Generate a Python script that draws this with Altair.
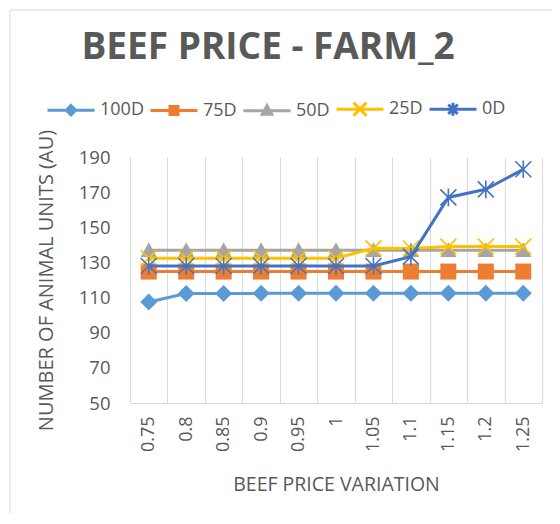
import altair as alt
import pandas as pd

x_labels = ["0.75", "0.8", "0.85", "0.9", "0.95", "1", "1.05", "1.1", "1.15", "1.2", "1.25"]
series_names = ["100D", "75D", "50D", "25D", "0D"]
s100 = [107.5, 112.3, 112.3, 112.4, 112.4, 112.4, 112.4, 112.4, 112.4, 112.4, 112.4]
s75 = [124.8, 124.8, 124.8, 124.8, 124.8, 124.8, 124.8, 124.8, 124.8, 124.8, 124.8]
s50 = [137.0, 137.0, 137.0, 137.0, 137.0, 137.0, 137.0, 137.0, 137.0, 137.0, 137.0]
s25 = [132.4, 132.4, 132.4, 132.4, 132.4, 132.4, 138.0, 137.9, 139.0, 139.0, 139.0]
s0 = [128.0, 128.0, 128.0, 128.0, 128.0, 128.0, 128.0, 133.3, 167.0, 171.6, 183.0]
colors = ["#5B9BD5", "#ED7D31", "#A5A5A5", "#FFC000", "#4472C4"]

marker_paths = [
    "M0,-1L1,0L0,1L-1,0Z",
    "M-1,-1H1V1H-1Z",
    "M0,-1L1,0.85L-1,0.85Z",
    "M-1,-1L1,1M-1,1L1,-1",
    "M-1,-1L1,1M-1,1L1,-1M0,-1.1V1.1",
]
legend_paths = [
    "M-1,0H1M0,-0.2L0.2,0L0,0.2L-0.2,0Z",
    "M-1,0H1M-0.17,-0.17H0.17V0.17H-0.17Z",
    "M-1,0H1M0,-0.22L0.2,0.14L-0.2,0.14Z",
    "M-1,0H1M-0.28,-0.28L0.28,0.28M-0.28,0.28L0.28,-0.28",
    "M-1,0H1M-0.2,-0.2L0.2,0.2M-0.2,0.2L0.2,-0.2M0,-0.28V0.28",
]
marker_sizes = [289, 256, 256, 256, 256]
marker_filled = [True, True, True, False, False]

rows = []
for name, vals in zip(series_names, [s100, s75, s50, s25, s0]):
    for xl, v in zip(x_labels, vals):
        rows.append({"variation": xl, "series": name, "units": v})
df = pd.DataFrame(rows)

FONT = "Open Sans"
TXT = "#595959"
GRID = "#D9D9D9"

x_enc = alt.X(
    "variation:N",
    sort=x_labels,
    scale=alt.Scale(type="band", domain=x_labels, paddingInner=0, paddingOuter=0),
    bandPosition=0.5,
    title="BEEF PRICE VARIATION",
    axis=alt.Axis(
        grid=True, gridColor=GRID, gridWidth=1, tickBand="extent", ticks=False,
        domainColor=GRID, domainWidth=1, labelAngle=270, labelFont=FONT,
        labelFontSize=18, labelColor=TXT, labelPadding=13, titleFont=FONT,
        titleFontSize=19.5, titleFontWeight="normal", titleColor=TXT, titlePadding=24,
    ),
)
y_enc = alt.Y(
    "units:Q",
    scale=alt.Scale(domain=[50, 190], nice=False, zero=False),
    title="NUMBER OF ANIMAL UNITS (AU)",
    axis=alt.Axis(
        values=list(range(50, 191, 20)), grid=False, domain=False, ticks=False,
        labelPadding=20, labelFont=FONT, labelFontSize=18.5, labelColor=TXT,
        titleFont=FONT, titleFontSize=20, titleFontWeight="normal", titleColor=TXT,
        titlePadding=22,
    ),
)


def color_scale():
    return alt.Scale(domain=series_names, range=colors)


def make_legend():
    return alt.Legend(
        orient="none", legendX=-84, legendY=-73, direction="horizontal",
        title=None, symbolSize=2209, symbolStrokeWidth=3, symbolOpacity=1,
        labelFont=FONT, labelFontSize=18, labelColor=TXT, labelOffset=4,
        columnPadding=0, padding=0,
    )


base = alt.Chart(df)
series_layers = []
for i, name in enumerate(series_names):
    sub = base.transform_filter(alt.datum.series == name)
    line = sub.mark_line(strokeWidth=3).encode(
        x=x_enc, y=y_enc,
        color=alt.Color("series:N", scale=color_scale(), legend=None),
    )
    pts = sub.mark_point(
        filled=marker_filled[i], size=marker_sizes[i], opacity=1,
        strokeWidth=1.6,
    ).encode(
        x=x_enc, y=y_enc,
        color=alt.Color("series:N", scale=color_scale(), legend=None),
        shape=alt.Shape("series:N", scale=alt.Scale(domain=series_names, range=marker_paths), legend=None),
    )
    series_layers += [line, pts]

series_chart = alt.layer(*series_layers)

legend_layer = base.mark_point(filled=True, opacity=0).encode(
    x=x_enc, y=y_enc,
    color=alt.Color("series:N", scale=color_scale(), legend=make_legend()),
    stroke=alt.Stroke("series:N", scale=color_scale(), legend=make_legend()),
    shape=alt.Shape("series:N", scale=alt.Scale(domain=series_names, range=legend_paths),
                    legend=make_legend()),
)

border = alt.Chart(alt.Data(values=[{}])).mark_rect(
    fillOpacity=0, stroke=GRID, strokeWidth=1
).encode(
    x=alt.value(-120), x2=alt.value(700), y=alt.value(-147), y2=alt.value(700)
)

chart = alt.layer(border, series_chart, legend_layer).resolve_scale(
    shape="independent", color="independent", stroke="independent"
).properties(
    width=412, height=246,
    padding={"left": 122, "top": 149, "right": 10, "bottom": 110},
    autosize=alt.AutoSizeParams(type="none"),
    title=alt.TitleParams(
        "BEEF PRICE - FARM_2", font=FONT, fontSize=37, fontWeight="bold",
        color=TXT, anchor="middle", dx=-68, offset=-86, baseline="alphabetic",
    ),
).configure_view(stroke="transparent")

chart.save("out.html", embed_options={"renderer": "svg", "actions": False})
